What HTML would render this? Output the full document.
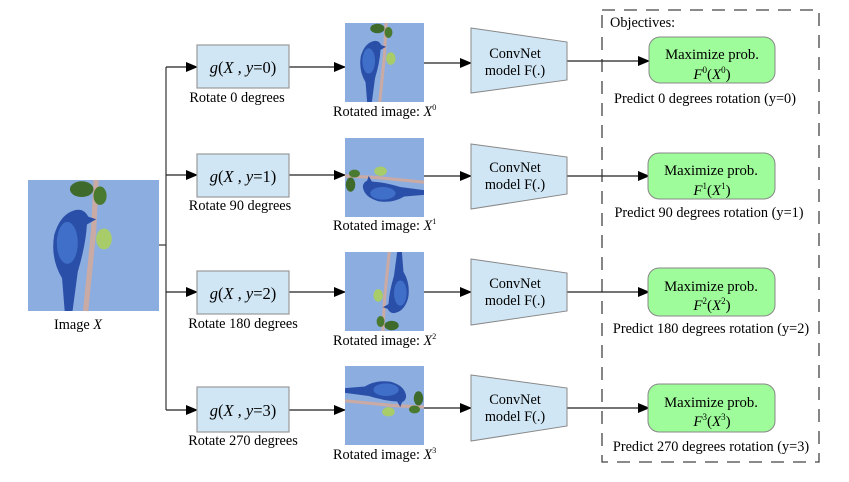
<!DOCTYPE html>
<html><head><meta charset="utf-8"><style>
html,body{margin:0;padding:0;background:#fff;}
svg{display:block;font-family:"Liberation Serif",serif;}
</style></head><body>
<svg width="849" height="482" viewBox="0 0 849 482" xmlns="http://www.w3.org/2000/svg">
<defs>
<g id="bird">
<rect x="0" y="0" width="100" height="100" fill="#8cade0"/>
<path d="M44 100 L50 40 L52 0" stroke="#c9aaa5" stroke-width="4" fill="none"/>
<ellipse cx="41" cy="7" rx="9" ry="6" fill="#3e6a2c"/>
<ellipse cx="55" cy="12" rx="5" ry="7" fill="#4a7a30"/>
<ellipse cx="58" cy="45" rx="6" ry="8" fill="#a8cc6a"/>
<path d="M28 100 L26 75 Q17 60 20 42 Q24 28 33 24 Q42 20 46 28 L52 30 L45 34 Q44 50 38 70 L34 100 Z" fill="#2a4fa8"/>
<ellipse cx="30" cy="48" rx="8" ry="16" fill="#3f6fc8"/>
</g>
<marker id="ah" markerWidth="12" markerHeight="10" refX="11" refY="5" orient="auto" markerUnits="userSpaceOnUse">
<path d="M0 0 L12 5 L0 10 Z" fill="#000"/>
</marker>
</defs>

<rect x="602" y="10" width="217" height="452" fill="none" stroke="#444" stroke-width="1.3" stroke-dasharray="13,9"/>
<text x="610" y="27" font-size="14.3">Objectives:</text>

<g transform="translate(28,180) scale(1.31)"><use href="#bird"/></g>
<text x="54" y="329" font-size="14.3">Image <tspan font-style="italic">X</tspan></text>
<line x1="159" y1="245" x2="166" y2="245" stroke="#333" stroke-width="1.2"/>
<line x1="166" y1="67" x2="166" y2="410" stroke="#333" stroke-width="1.2"/>

<g stroke="#222" stroke-width="1.2">
<line x1="166" y1="67" x2="197" y2="67" marker-end="url(#ah)"/>
<line x1="166" y1="175" x2="197" y2="175" marker-end="url(#ah)"/>
<line x1="166" y1="292" x2="197" y2="292" marker-end="url(#ah)"/>
<line x1="166" y1="410" x2="197" y2="410" marker-end="url(#ah)"/>

<line x1="289" y1="67" x2="345" y2="67" marker-end="url(#ah)"/>
<line x1="289" y1="175" x2="345" y2="175" marker-end="url(#ah)"/>
<line x1="289" y1="292" x2="345" y2="292" marker-end="url(#ah)"/>
<line x1="289" y1="410" x2="345" y2="410" marker-end="url(#ah)"/>

<line x1="424" y1="63" x2="471" y2="63" marker-end="url(#ah)"/>
<line x1="424" y1="176" x2="471" y2="176" marker-end="url(#ah)"/>
<line x1="424" y1="292" x2="471" y2="292" marker-end="url(#ah)"/>
<line x1="424" y1="408" x2="471" y2="408" marker-end="url(#ah)"/>

<line x1="567" y1="61" x2="649" y2="61" marker-end="url(#ah)"/>
<line x1="567" y1="176" x2="649" y2="176" marker-end="url(#ah)"/>
<line x1="567" y1="292" x2="649" y2="292" marker-end="url(#ah)"/>
<line x1="567" y1="408" x2="649" y2="408" marker-end="url(#ah)"/>
</g>

<g fill="#d0e6f4" stroke="#999" stroke-width="1.2">
<rect x="197" y="45" width="92" height="43"/>
<rect x="197" y="154" width="92" height="43"/>
<rect x="197" y="271" width="92" height="43"/>
<rect x="197" y="387" width="92" height="45"/>
</g>
<g font-size="16.5" text-anchor="middle" font-style="italic">
<text x="243" y="73">g<tspan font-style="normal">(</tspan>X , y<tspan font-style="normal">=0)</tspan></text>
<text x="243" y="182">g<tspan font-style="normal">(</tspan>X , y<tspan font-style="normal">=1)</tspan></text>
<text x="243" y="299">g<tspan font-style="normal">(</tspan>X , y<tspan font-style="normal">=2)</tspan></text>
<text x="243" y="416">g<tspan font-style="normal">(</tspan>X , y<tspan font-style="normal">=3)</tspan></text>
</g>
<g font-size="14.3" text-anchor="middle">
<text x="237" y="102">Rotate 0 degrees</text>
<text x="240" y="210">Rotate 90 degrees</text>
<text x="243" y="328">Rotate 180 degrees</text>
<text x="243" y="445">Rotate 270 degrees</text>
</g>

<g transform="translate(345,23) scale(0.79)"><use href="#bird"/></g>
<g transform="translate(345,217) scale(0.79) rotate(-90)"><use href="#bird"/></g>
<g transform="translate(424,331) scale(0.79) rotate(180)"><use href="#bird"/></g>
<g transform="translate(424,366) scale(0.79) rotate(90)"><use href="#bird"/></g>
<g font-size="14.3">
<text x="333" y="116">Rotated image:  <tspan font-style="italic">X</tspan><tspan font-size="8" dy="-6">0</tspan></text>
<text x="333" y="230">Rotated image:  <tspan font-style="italic">X</tspan><tspan font-size="8" dy="-6">1</tspan></text>
<text x="333" y="345">Rotated image:  <tspan font-style="italic">X</tspan><tspan font-size="8" dy="-6">2</tspan></text>
<text x="333" y="459">Rotated image:  <tspan font-style="italic">X</tspan><tspan font-size="8" dy="-6">3</tspan></text>
</g>

<g fill="#d0e6f4" stroke="#888" stroke-width="1">
<polygon points="471,28 567,42 567,80 471,93"/>
<polygon points="471,144 567,157 567,194 471,209"/>
<polygon points="471,259 567,273 567,311 471,325"/>
<polygon points="471,375 567,388 567,426 471,441"/>
</g>
<g font-size="14.3" text-anchor="middle">
<text x="515" y="58">ConvNet</text><text x="515" y="75">model F(.)</text>
<text x="515" y="172">ConvNet</text><text x="515" y="189">model F(.)</text>
<text x="515" y="288">ConvNet</text><text x="515" y="305">model F(.)</text>
<text x="515" y="404">ConvNet</text><text x="515" y="421">model F(.)</text>
</g>

<g fill="#9efc9a" stroke="#888" stroke-width="1">
<rect x="649" y="37" width="126" height="46" rx="11"/>
<rect x="648" y="153" width="127" height="46" rx="11"/>
<rect x="648" y="268" width="127" height="48" rx="11"/>
<rect x="648" y="384" width="127" height="48" rx="11"/>
</g>
<g font-size="14.7" text-anchor="middle">
<text x="712" y="59">Maximize prob.</text>
<text x="711" y="175">Maximize prob.</text>
<text x="711" y="291">Maximize prob.</text>
<text x="711" y="407">Maximize prob.</text>
</g>
<g font-size="15" text-anchor="middle" font-style="italic">
<text x="712" y="79">F<tspan font-size="9" dy="-6" font-style="normal">0</tspan><tspan dy="6" font-style="normal">(</tspan>X<tspan font-size="9" dy="-6" font-style="normal">0</tspan><tspan dy="6" font-style="normal">)</tspan></text>
<text x="712" y="195">F<tspan font-size="9" dy="-6" font-style="normal">1</tspan><tspan dy="6" font-style="normal">(</tspan>X<tspan font-size="9" dy="-6" font-style="normal">1</tspan><tspan dy="6" font-style="normal">)</tspan></text>
<text x="712" y="310">F<tspan font-size="9" dy="-6" font-style="normal">2</tspan><tspan dy="6" font-style="normal">(</tspan>X<tspan font-size="9" dy="-6" font-style="normal">2</tspan><tspan dy="6" font-style="normal">)</tspan></text>
<text x="712" y="426">F<tspan font-size="9" dy="-6" font-style="normal">3</tspan><tspan dy="6" font-style="normal">(</tspan>X<tspan font-size="9" dy="-6" font-style="normal">3</tspan><tspan dy="6" font-style="normal">)</tspan></text>
</g>
<g font-size="14.3" text-anchor="middle">
<text x="705" y="103">Predict 0 degrees rotation (y=0)</text>
<text x="709" y="217">Predict 90 degrees rotation (y=1)</text>
<text x="711" y="333">Predict 180 degrees rotation (y=2)</text>
<text x="711" y="451">Predict 270 degrees rotation (y=3)</text>
</g>
</svg>
</body></html>
